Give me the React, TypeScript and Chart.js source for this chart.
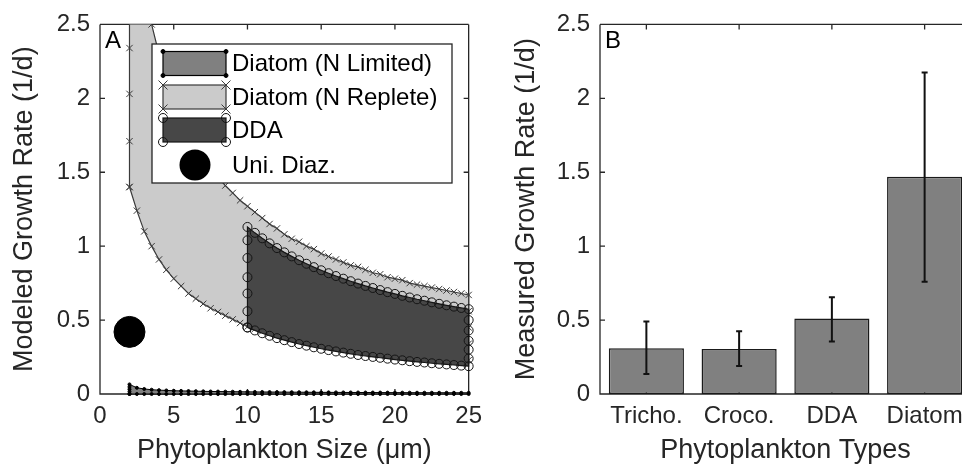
import React, { useEffect, useRef } from "react";
import { Chart, registerables } from "chart.js";
Chart.register(...registerables);

// ---------- Panel A data ----------
const sizeGrid = [2, 2.5, 3, 3.5, 4, 4.5, 5, 5.5, 6, 6.5, 7, 7.5, 8, 8.5, 9, 9.5, 10, 10.5, 11, 11.5, 12, 12.5, 13, 13.5, 14, 14.5, 15, 15.5, 16, 16.5, 17, 17.5, 18, 18.5, 19, 19.5, 20, 20.5, 21, 21.5, 22, 22.5, 23, 23.5, 24, 24.5, 25];
const repleteUpper = [3.6, 3.15, 2.78, 2.5, 2.3, 2.14, 2.0, 1.88, 1.78, 1.69, 1.61, 1.54, 1.47, 1.41, 1.36, 1.31, 1.27, 1.23, 1.19, 1.15, 1.12, 1.08, 1.05, 1.03, 1.0, 0.98, 0.95, 0.93, 0.91, 0.89, 0.87, 0.86, 0.84, 0.82, 0.81, 0.79, 0.78, 0.77, 0.75, 0.74, 0.73, 0.72, 0.71, 0.7, 0.69, 0.68, 0.67];
const repleteLower = [1.4, 1.24, 1.1, 1.0, 0.91, 0.84, 0.78, 0.73, 0.68, 0.645, 0.61, 0.58, 0.555, 0.53, 0.505, 0.48, 0.455, 0.44, 0.424, 0.41, 0.397, 0.385, 0.374, 0.364, 0.354, 0.345, 0.336, 0.328, 0.32, 0.313, 0.306, 0.299, 0.293, 0.287, 0.281, 0.276, 0.271, 0.266, 0.261, 0.256, 0.252, 0.247, 0.243, 0.24, 0.236, 0.232, 0.229];
const repleteLeftEdge = [1.71, 2.03, 2.34, 2.66, 2.97, 3.29];
const repleteRightEdge = [0.34, 0.45, 0.56];
const limitedUpper = [0.065, 0.042, 0.034, 0.029, 0.026, 0.024, 0.022, 0.021, 0.02, 0.019, 0.018, 0.017, 0.0165, 0.016, 0.0155, 0.015, 0.0145, 0.014, 0.0137, 0.0133, 0.013, 0.0127, 0.0124, 0.0121, 0.0118, 0.0115, 0.0112, 0.011, 0.0108, 0.0106, 0.0104, 0.0102, 0.01, 0.0098, 0.0096, 0.0094, 0.0092, 0.009, 0.0089, 0.0088, 0.0087, 0.0086, 0.0085, 0.0084, 0.0083, 0.0082, 0.008];
const limitedLower = [0, 0, 0, 0, 0, 0, 0, 0, 0, 0, 0, 0, 0, 0, 0, 0, 0, 0, 0, 0, 0, 0, 0, 0, 0, 0, 0, 0, 0, 0, 0, 0, 0, 0, 0, 0, 0, 0, 0, 0, 0, 0, 0, 0, 0, 0, 0];
const limitedLeftEdge = [0.016, 0.032, 0.048];
const limitedRightEdge: number[] = [];
const ddaSize = [10, 10.5, 11, 11.5, 12, 12.5, 13, 13.5, 14, 14.5, 15, 15.5, 16, 16.5, 17, 17.5, 18, 18.5, 19, 19.5, 20, 20.5, 21, 21.5, 22, 22.5, 23, 23.5, 24, 24.5, 25];
const ddaUpper = [1.13, 1.09, 1.053, 1.019, 0.987, 0.958, 0.931, 0.905, 0.881, 0.858, 0.837, 0.817, 0.798, 0.78, 0.763, 0.747, 0.731, 0.717, 0.703, 0.689, 0.677, 0.664, 0.653, 0.641, 0.631, 0.62, 0.61, 0.6, 0.591, 0.582, 0.574];
const ddaLower = [0.45, 0.43, 0.411, 0.394, 0.378, 0.364, 0.351, 0.338, 0.327, 0.316, 0.306, 0.297, 0.288, 0.28, 0.272, 0.264, 0.257, 0.251, 0.245, 0.239, 0.233, 0.228, 0.222, 0.217, 0.213, 0.208, 0.204, 0.2, 0.196, 0.192, 0.188];
const ddaLeftEdge = [0.56, 0.68, 0.79, 0.92, 1.04];
const ddaRightEdge = [0.24, 0.3, 0.36, 0.43, 0.5];
const uniDiazSize = [2];
const uniDiazRate = [0.42];

const seriesLabels = ["Diatom (N Limited)", "Diatom (N Replete)", "DDA", "Uni. Diaz."];
const xTitleA = "Phytoplankton Size (\u03bcm)";
const yTitleA = "Modeled Growth Rate (1/d)";

// ---------- Panel B data ----------
const types = ["Tricho.", "Croco.", "DDA", "Diatom"];
const measured = [0.31, 0.305, 0.51, 1.47];
const errLow = [0.135, 0.19, 0.355, 0.76];
const errHigh = [0.49, 0.425, 0.655, 2.175];
const xTitleB = "Phytoplankton Types";
const yTitleB = "Measured Growth Rate (1/d)";

const FONT = "'Liberation Sans', Arial, Helvetica, sans-serif";
const TXT = "#262626";
const TICK_SIZE = 24;
const TITLE_SIZE = 27;
const LEGEND_SIZE = 24;

function polygon(xs: number[], lower: number[], upper: number[], leftEdge: number[], rightEdge: number[]) {
  const pts: { x: number; y: number }[] = [];
  xs.forEach((x, i) => pts.push({ x, y: lower[i] }));
  const xe = xs[xs.length - 1];
  rightEdge.forEach((y) => pts.push({ x: xe, y }));
  for (let i = xs.length - 1; i >= 0; i--) pts.push({ x: xs[i], y: upper[i] });
  for (let i = leftEdge.length - 1; i >= 0; i--) pts.push({ x: xs[0], y: leftEdge[i] });
  pts.push({ x: xs[0], y: lower[0] });
  return pts;
}

function drawMarker(ctx: CanvasRenderingContext2D, style: string, x: number, y: number, r: number, stroke: string, fill: string) {
  ctx.save();
  ctx.strokeStyle = stroke;
  ctx.fillStyle = fill;
  ctx.lineWidth = 1;
  ctx.beginPath();
  if (style === "crossRot") {
    ctx.moveTo(x - r, y - r); ctx.lineTo(x + r, y + r);
    ctx.moveTo(x - r, y + r); ctx.lineTo(x + r, y - r);
    ctx.stroke();
  } else {
    ctx.arc(x, y, r, 0, Math.PI * 2);
    ctx.fill();
    ctx.stroke();
  }
  ctx.restore();
}

function makeFramePlugin(rightTicks: boolean) {
  return {
    id: "frame",
    beforeDatasetsDraw(chart: any) {
      const { ctx, chartArea, scales } = chart;
      const { left, right, top, bottom } = chartArea;
      ctx.save();
      ctx.strokeStyle = TXT;
      ctx.lineWidth = 1.3;
      ctx.beginPath();
      ctx.moveTo(left, top); ctx.lineTo(right, top);
      ctx.moveTo(left, top); ctx.lineTo(left, bottom); ctx.lineTo(right, bottom);
      if (rightTicks) { ctx.moveTo(right, top); ctx.lineTo(right, bottom); }
      const tl = 5;
      scales.y.ticks.forEach((t: any) => {
        const y = scales.y.getPixelForValue(t.value);
        ctx.moveTo(left, y); ctx.lineTo(left + tl, y);
        if (rightTicks) { ctx.moveTo(right, y); ctx.lineTo(right - tl, y); }
      });
      scales.x.ticks.forEach((t: any, i: number) => {
        const x = scales.x.getPixelForTick(i);
        ctx.moveTo(x, top); ctx.lineTo(x, top + tl);
        ctx.moveTo(x, bottom); ctx.lineTo(x, bottom - tl);
      });
      ctx.stroke();
      ctx.restore();
    },
  };
}

function letterPlugin(letter: string) {
  return {
    id: "letter",
    afterDraw(chart: any) {
      const { ctx, chartArea } = chart;
      ctx.save();
      ctx.fillStyle = "#000";
      ctx.font = `${TICK_SIZE}px ${FONT}`;
      ctx.textBaseline = "top";
      ctx.textAlign = "left";
      ctx.fillText(letter, chartArea.left + 5, chartArea.top + 5);
      ctx.restore();
    },
  };
}

const legendPlugin = {
  id: "customLegend",
  afterDatasetsDraw(chart: any) {
    const { ctx } = chart;
    const ds = chart.data.datasets;
    const bx = 152, by = 44, bw = 300, bh = 139;
    ctx.save();
    ctx.fillStyle = "#fff";
    ctx.fillRect(bx, by, bw, bh);
    ctx.strokeStyle = TXT;
    ctx.lineWidth = 1.3;
    ctx.strokeRect(bx, by, bw, bh);
    const rows = [63.5, 97, 130, 165];
    const ix0 = 163, ix1 = 226;
    ctx.font = `${LEGEND_SIZE}px ${FONT}`;
    ctx.textBaseline = "middle";
    ctx.textAlign = "left";
    ds.forEach((d: any, i: number) => {
      const cy = rows[i];
      if (d.legendKind === "patch") {
        const y0 = cy - 12, y1 = cy + 12;
        ctx.fillStyle = d.backgroundColor;
        ctx.fillRect(ix0, y0, ix1 - ix0, y1 - y0);
        ctx.strokeStyle = d.borderColor;
        ctx.lineWidth = 1.2;
        ctx.strokeRect(ix0, y0, ix1 - ix0, y1 - y0);
        [[ix0, y0], [ix1, y0], [ix0, y1], [ix1, y1]].forEach(([px, py]) =>
          drawMarker(ctx, d.pointStyle, px, py, d.pointRadius < 2 ? 2 : d.pointRadius, d.pointBorderColor, d.pointBackgroundColor)
        );
      } else {
        ctx.fillStyle = d.backgroundColor;
        ctx.beginPath();
        ctx.arc(195, cy, d.pointRadius, 0, Math.PI * 2);
        ctx.fill();
      }
      ctx.fillStyle = "#000";
      ctx.fillText(d.label, 232, cy + 1);
    });
    ctx.restore();
  },
};

const errorBarPlugin = {
  id: "errorBars",
  afterDatasetsDraw(chart: any) {
    const { ctx, scales } = chart;
    const meta = chart.getDatasetMeta(0);
    ctx.save();
    ctx.strokeStyle = "#111";
    ctx.lineWidth = 2;
    meta.data.forEach((bar: any, i: number) => {
      const x = bar.x;
      const yl = scales.y.getPixelForValue(errLow[i]);
      const yh = scales.y.getPixelForValue(errHigh[i]);
      ctx.beginPath();
      ctx.moveTo(x, yl); ctx.lineTo(x, yh);
      ctx.moveTo(x - 3, yl); ctx.lineTo(x + 3, yl);
      ctx.moveTo(x - 3, yh); ctx.lineTo(x + 3, yh);
      ctx.stroke();
    });
    ctx.restore();
  },
};

function yAxis(title: string, width: number, titlePad: number) {
  return {
    min: 0,
    max: 2.5,
    afterFit: (s: any) => { s.width = width; },
    grid: { display: false, drawTicks: false },
    border: { display: false },
    ticks: {
      stepSize: 0.5,
      color: TXT,
      font: { family: FONT, size: TICK_SIZE },
      padding: 10,
      callback: (v: any) => String(Math.round(Number(v) * 10) / 10),
    },
    title: { display: true, text: title, color: TXT, font: { family: FONT, size: TITLE_SIZE }, padding: { top: titlePad, bottom: 0 } },
  };
}

export default function App() {
  const aRef = useRef<HTMLCanvasElement>(null);
  const bRef = useRef<HTMLCanvasElement>(null);

  useEffect(() => {
    const clip = { left: 8, right: 8, top: 0, bottom: 8 };
    const chartA = new Chart(aRef.current!, {
      type: "scatter",
      data: {
        datasets: [
          {
            label: seriesLabels[0],
            legendKind: "patch",
            data: polygon(sizeGrid, limitedLower, limitedUpper, limitedLeftEdge, limitedRightEdge),
            showLine: true,
            fill: "shape",
            backgroundColor: "#808080",
            borderColor: "#000",
            borderWidth: 1,
            pointStyle: "circle",
            pointRadius: 1.5,
            pointBorderColor: "#000",
            pointBackgroundColor: "#000",
            pointBorderWidth: 1,
            clip,
            order: 2,
          } as any,
          {
            label: seriesLabels[1],
            legendKind: "patch",
            data: polygon(sizeGrid, repleteLower, repleteUpper, repleteLeftEdge, repleteRightEdge),
            showLine: true,
            fill: "shape",
            backgroundColor: "#cbcbcb",
            borderColor: "#3a3a3a",
            borderWidth: 1.2,
            pointStyle: "crossRot",
            pointRadius: 4.5,
            pointBorderColor: "#3a3a3a",
            pointBackgroundColor: "#3a3a3a",
            pointBorderWidth: 1,
            clip,
            order: 3,
          },
          {
            label: seriesLabels[2],
            legendKind: "patch",
            data: polygon(ddaSize, ddaLower, ddaUpper, ddaLeftEdge, ddaRightEdge),
            showLine: true,
            fill: "shape",
            backgroundColor: "#474747",
            borderColor: "#151515",
            borderWidth: 1.2,
            pointStyle: "circle",
            pointRadius: 4.5,
            pointBorderColor: "#151515",
            pointBackgroundColor: "rgba(0,0,0,0)",
            pointBorderWidth: 1,
            clip,
            order: 1,
          },
          {
            label: seriesLabels[3],
            legendKind: "dot",
            data: uniDiazSize.map((x, i) => ({ x, y: uniDiazRate[i] })),
            showLine: false,
            backgroundColor: "#000",
            borderColor: "#000",
            pointRadius: 15.5,
            pointBackgroundColor: "#000",
            pointBorderColor: "#000",
            order: 0,
          },
        ],
      },
      options: {
        animation: false,
        responsive: false,
        events: [],
        layout: { padding: { left: 0, right: 18, top: 23, bottom: 0 } },
        elements: { line: { tension: 0 } },
        plugins: { legend: { display: false }, tooltip: { enabled: false } },
        scales: {
          x: {
            type: "linear",
            min: 0,
            max: 25,
            afterFit: (s: any) => { s.height = 75; },
            grid: { display: false, drawTicks: false },
            border: { display: false },
            ticks: { stepSize: 5, color: TXT, font: { family: FONT, size: TICK_SIZE }, padding: 8, maxRotation: 0 },
            title: { display: true, text: xTitleA, color: TXT, font: { family: FONT, size: TITLE_SIZE }, padding: { top: 0, bottom: 2 } },
          },
          y: yAxis(yTitleA, 100, 8) as any,
        },
      },
      plugins: [makeFramePlugin(true), legendPlugin, letterPlugin("A")],
    });

    const chartB = new Chart(bRef.current!, {
      type: "bar",
      data: {
        labels: types,
        datasets: [
          {
            label: "Measured",
            data: measured,
            backgroundColor: "#808080",
            borderColor: "#1a1a1a",
            borderWidth: 1.5,
            borderSkipped: false,
            barPercentage: 0.81,
            categoryPercentage: 1,
          },
        ],
      },
      options: {
        animation: false,
        responsive: false,
        events: [],
        layout: { padding: { left: 0, right: 19, top: 23, bottom: 0 } },
        plugins: { legend: { display: false }, tooltip: { enabled: false } },
        scales: {
          x: {
            afterFit: (s: any) => { s.height = 75; },
            grid: { display: false, drawTicks: false },
            border: { display: false },
            ticks: { color: TXT, font: { family: FONT, size: TICK_SIZE }, padding: 8, maxRotation: 0, autoSkip: false },
            title: { display: true, text: xTitleB, color: TXT, font: { family: FONT, size: TITLE_SIZE }, padding: { top: 0, bottom: 2 } },
          },
          y: yAxis(yTitleB, 110, 20) as any,
        },
      },
      plugins: [makeFramePlugin(false), errorBarPlugin, letterPlugin("B")],
    });

    return () => {
      chartA.destroy();
      chartB.destroy();
    };
  }, []);

  return (
    <div style={{ position: "fixed", left: 0, top: 0, width: 962, height: 469, overflow: "hidden", background: "#fff" }}>
      <canvas ref={aRef} width={490} height={469} style={{ position: "absolute", left: 0, top: 0, width: 490, height: 469 }} />
      <canvas ref={bRef} width={500} height={469} style={{ position: "absolute", left: 490, top: 0, width: 500, height: 469 }} />
    </div>
  );
}
